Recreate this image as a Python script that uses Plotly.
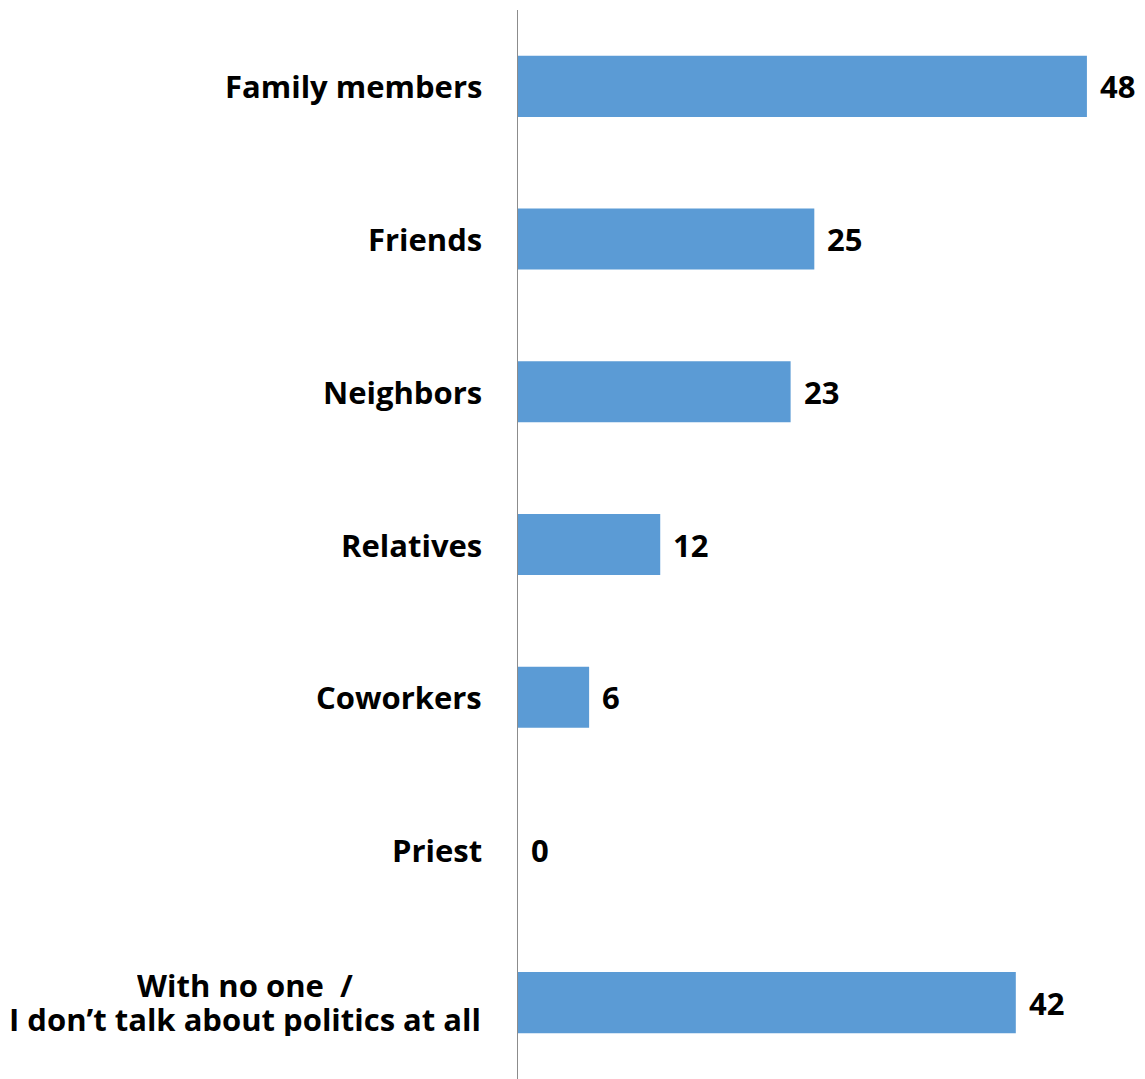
import plotly.graph_objects as go

categories = ["Family members", "Friends", "Neighbors", "Relatives", "Coworkers", "Priest",
              "With no one  /<br>I don\u2019t talk about politics at all"]
values = [48, 25, 23, 12, 6, 0, 42]
value_labels = ["48", "25", "23", "12", "6", "0", "42"]

BAR_COLOR = "#5B9BD5"
FONT = "Open Sans"
FSIZE = 31

fig = go.Figure()
fig.add_trace(go.Bar(
    y=categories, x=values, orientation="h",
    marker=dict(color=BAR_COLOR, line=dict(width=0)),
    hoverinfo="skip",
))

annotations = []
for cat, v, lab in zip(categories, values, value_labels):
    annotations.append(dict(
        x=v, y=cat, xref="x", yref="y", text="<b>%s</b>" % lab,
        showarrow=False, xanchor="left", yanchor="middle", xshift=11,
        font=dict(family=FONT, size=FSIZE, color="black"),
    ))
    lines = cat.split("<br>")
    if len(lines) == 1:
        annotations.append(dict(
            x=0, y=cat, xref="x", yref="y", text="<b>%s</b>" % cat,
            showarrow=False, xanchor="right", yanchor="middle", xshift=-34,
            font=dict(family=FONT, size=FSIZE, color="black"),
        ))
    else:
        n = len(lines)
        for i, ln in enumerate(lines):
            annotations.append(dict(
                x=0, y=cat, xref="x", yref="y", text="<b>%s</b>" % ln,
                showarrow=False, xanchor="center", yanchor="middle", xshift=-273,
                yshift=1 + (n - 1) * 17 - i * 34, height=34,
                font=dict(family=FONT, size=FSIZE, color="black"),
            ))

fig.update_layout(
    width=1137, height=1071,
    margin=dict(l=510, r=0, t=2, b=0),
    plot_bgcolor="white", paper_bgcolor="white",
    bargap=0.6,
    showlegend=False,
    xaxis=dict(range=[0, 52.9], showgrid=False, zeroline=False, showticklabels=False,
               showline=False, fixedrange=True),
    yaxis=dict(autorange="reversed", showgrid=False, zeroline=False, showticklabels=False,
               showline=True, linecolor="#8C8C8C", linewidth=1, ticks="", fixedrange=True),
    annotations=annotations,
)

fig.write_html("out.html")
